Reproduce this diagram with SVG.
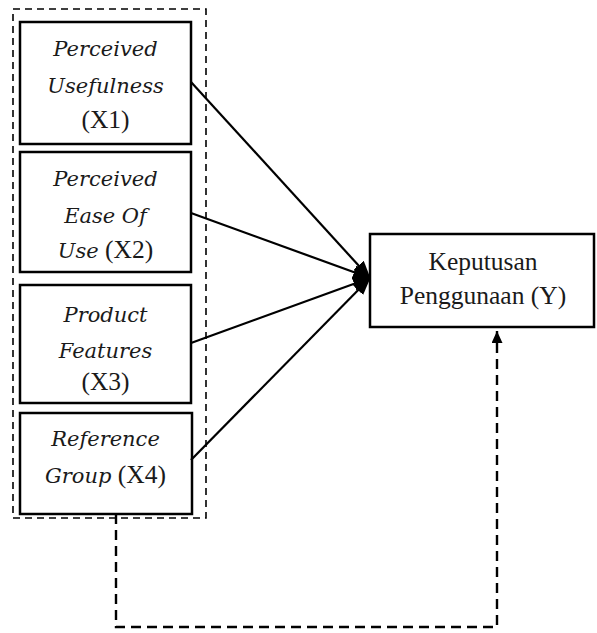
<svg xmlns="http://www.w3.org/2000/svg" width="597" height="633" viewBox="0 0 597 633">
<defs>
<marker id="ah" markerWidth="18" markerHeight="14" refX="17" refY="7" orient="auto" markerUnits="userSpaceOnUse">
<path d="M0,0 L18,7 L0,14 Z" fill="#000"/>
</marker>
<marker id="ah2" markerWidth="12" markerHeight="11" refX="12" refY="5.5" orient="auto" markerUnits="userSpaceOnUse">
<path d="M0,0 L12,5.5 L0,11 Z" fill="#000"/>
</marker>
</defs>
<style>
.box{fill:#fff;stroke:#000;stroke-width:2.5}
.it{font-family:"DejaVu Serif",serif;font-style:italic;font-size:21px;fill:#1a1a1a}
.rg{font-family:"Liberation Serif","Times New Roman",serif;font-size:25.5px;fill:#1a1a1a}
.ln{stroke:#000;stroke-width:2.2;fill:none}
.dash{stroke:#000;stroke-width:2.4;fill:none;stroke-dasharray:10,6}
.dash2{stroke:#000;stroke-width:1.6;fill:none;stroke-dasharray:7,5}
</style>
<rect x="13" y="9" width="193" height="509" class="dash2"/>
<g id="x1">
<rect x="20" y="22" width="171" height="122" class="box"/>
<text x="105.5" text-anchor="middle" y="56" class="it">Perceived</text>
<text x="105.5" text-anchor="middle" y="93" class="it">Usefulness</text>
<text x="105.5" text-anchor="middle" y="128" class="rg">(X1)</text>
</g>
<g id="x2">
<rect x="20" y="152" width="171" height="120" class="box"/>
<text x="105.5" text-anchor="middle" y="186" class="it">Perceived</text>
<text x="105.5" text-anchor="middle" y="223" class="it">Ease Of</text>
<text x="105.5" text-anchor="middle" y="258"><tspan class="it">Use</tspan><tspan class="rg"> (X2)</tspan></text>
</g>
<g id="x3">
<rect x="20" y="285" width="171" height="118" class="box"/>
<text x="105.5" text-anchor="middle" y="322" class="it">Product</text>
<text x="105.5" text-anchor="middle" y="358" class="it">Features</text>
<text x="105.5" text-anchor="middle" y="390" class="rg">(X3)</text>
</g>
<g id="x4">
<rect x="20" y="413" width="172" height="101" class="box"/>
<text x="105.5" text-anchor="middle" y="446" class="it">Reference</text>
<text x="105.5" text-anchor="middle" y="483"><tspan class="it">Group</tspan><tspan class="rg"> (X4)</tspan></text>
</g>
<g id="y">
<rect x="370" y="234" width="224" height="93" class="box"/>
<text x="483" text-anchor="middle" y="270" class="rg">Keputusan</text>
<text x="483" text-anchor="middle" y="304" class="rg">Penggunaan (Y)</text>
</g>
<g id="connectors">
<line x1="191" y1="82" x2="370" y2="278" class="ln" marker-end="url(#ah)"/>
<line x1="191" y1="213" x2="370" y2="278" class="ln" marker-end="url(#ah)"/>
<line x1="191" y1="343" x2="370" y2="278" class="ln" marker-end="url(#ah)"/>
<line x1="191" y1="460" x2="370" y2="278" class="ln" marker-end="url(#ah)"/>
<polyline points="116,514 116,627 497,627 497,331" class="dash" marker-end="url(#ah2)"/>
</g>
</svg>
